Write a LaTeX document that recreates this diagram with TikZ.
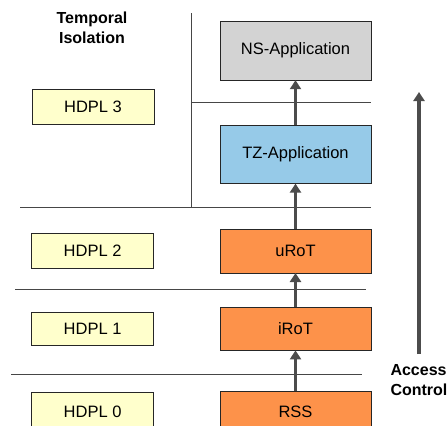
\documentclass[tikz,border=0pt]{standalone}
\usepackage{fontspec}
\setmainfont{Liberation Sans}
\usetikzlibrary{arrows.meta,positioning}
\definecolor{nsColor}{RGB}{211,211,211}
\definecolor{tzColor}{RGB}{150,202,232}
\definecolor{rotColor}{RGB}{253,146,74}
\definecolor{hdplColor}{RGB}{255,255,204}
\definecolor{lineColor}{RGB}{70,70,70}
\tikzset{layer/.style={draw=black!85, align=center, minimum width=151pt, font=\fontsize{16.5}{19}\selectfont}}
\tikzset{level/.style={layer, fill=hdplColor, minimum width=122pt}}
\tikzset{title/.style={align=center, font=\fontsize{16}{20}\selectfont\bfseries}}
\tikzset{flow/.style={draw=black!70, line width=3.5pt, -{Triangle[width=11pt,length=9pt]}}}

\begin{document}
\begin{tikzpicture}[x=1pt,y=-1pt]
	\useasboundingbox (0,0) rectangle (448,426);
	\clip (0,0) rectangle (448,426);

	% Nodes
		\node (ns) [layer, fill=nsColor, minimum height=59pt] at (295.5,50.5) {NS-Application};
		\node (tz) [layer, fill=tzColor, minimum height=58pt, below=45pt of ns] {TZ-Application};
		\node (urot) [layer, fill=rotColor, minimum height=44pt, below=45pt of tz] {uRoT};
		\node (irot) [layer, fill=rotColor, minimum height=43pt, below=34pt of urot] {iRoT};
		\node (rss) [layer, fill=rotColor, minimum height=40pt, below=41pt of irot] {RSS};

		\node (hdpl3) [level, minimum height=35pt] at (93,106.5) {HDPL 3};
		\node (hdpl2) [level, minimum height=35pt, left=66pt of urot] {HDPL 2};
		\node (hdpl1) [level, minimum height=33pt, left=66pt of irot] {HDPL 1};
		\node (hdpl0) [level, minimum height=38pt, left=66pt of rss] {HDPL 0};

		\node (temporal) [title] at (92,28) {Temporal\\Isolation};
		\node (access) [title, anchor=west, align=left] at (387,380) {Access\\Control};

		\coordinate (acstart) at (419,354);
		\coordinate (acend) at (419,92);

	% Separators
	\begin{scope}[draw=lineColor, line width=0.9pt]
		\draw (191,13) -- (191,207);
		\draw (191,102) -- (371,102);
		\draw (20,207) -- (371,207);
		\draw (15,289) -- (366,289);
		\draw (11,374) -- (362,374);
	\end{scope}

	% Connectors
		\draw [flow] (tz) -- (ns);
		\draw [flow] (urot) -- (tz);
		\draw [flow] (irot) -- (urot);
		\draw [flow] (rss) -- (irot);
		\draw [flow] (acstart) -- (acend);

\end{tikzpicture}
\end{document}
